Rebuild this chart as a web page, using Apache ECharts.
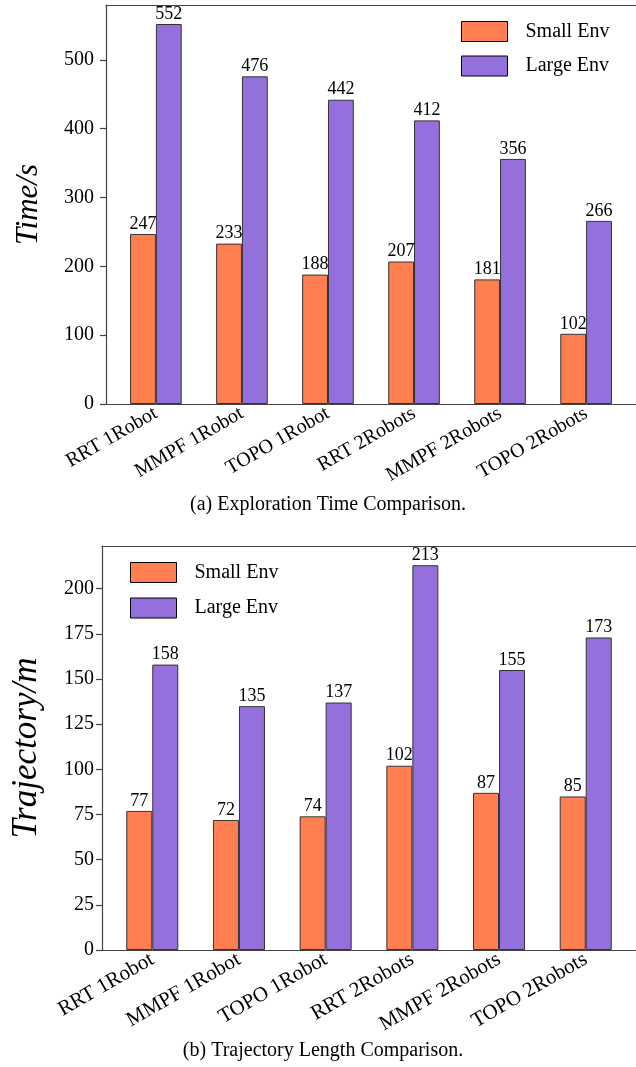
<!DOCTYPE html>
<html>
<head>
<meta charset="utf-8">
<script src="https://cdn.jsdelivr.net/npm/echarts@6/dist/echarts.min.js"></script>
<style>
html,body{margin:0;padding:0;background:#fff;}
#chart{width:636px;height:1067px;}
</style>
</head>
<body>
<div id="chart"></div>
<script>
const categories = ['RRT 1Robot', 'MMPF 1Robot', 'TOPO 1Robot', 'RRT 2Robots', 'MMPF 2Robots', 'TOPO 2Robots'];
const seriesNames = ['Small Env', 'Large Env'];
const timeSmall = [247, 233, 188, 207, 181, 102];
const timeLarge = [552, 476, 442, 412, 356, 266];
const trajSmall = [77, 72, 74, 102, 87, 85];
const trajLarge = [158, 135, 137, 213, 155, 173];
const timeTicks = [0, 100, 200, 300, 400, 500];
const trajTicks = [0, 25, 50, 75, 100, 125, 150, 175, 200];
const captions = ['(a) Exploration Time Comparison.', '(b) Trajectory Length Comparison.'];
const yNames = ['Time/s', 'Trajectory/m'];

const FONT = '"Liberation Serif", "DejaVu Serif", serif';
const AX = '#444';
const colors = ['#FF7F50', '#9370DB'];
const catIdx = categories.map((c, i) => i);
const xMin = -0.58, xMax = categories.length - 1 + 0.58;

function xAxisMain(grid, fs) {
  return {
    type: 'value', gridIndex: grid, min: xMin, max: xMax, position: 'bottom',
    axisLine: {show: true, onZero: false, lineStyle: {color: AX, width: 1.2}},
    axisTick: {show: false},
    splitLine: {show: false},
    axisLabel: {
      customValues: catIdx, rotate: 30, margin: 8,
      fontFamily: FONT, fontSize: fs, color: '#000',
      formatter: v => categories[Math.round(v)]
    }
  };
}
function xAxisTop(grid) {
  return {
    type: 'value', gridIndex: grid, min: xMin, max: xMax, position: 'top',
    axisLine: {show: true, onZero: false, lineStyle: {color: AX, width: 1.2}},
    axisTick: {show: false}, splitLine: {show: false}, axisLabel: {show: false}
  };
}
function yAxis(grid, max, ticks, name, margin, gap, nameSize) {
  return {
    type: 'value', gridIndex: grid, min: 0, max: max,
    name: name, nameLocation: 'middle', nameGap: gap,
    nameTextStyle: {fontFamily: FONT, fontSize: nameSize, fontStyle: 'italic', color: '#000'},
    axisLine: {show: true, onZero: false, lineStyle: {color: AX, width: 1.2}},
    axisTick: {show: true, customValues: ticks, length: 6, lineStyle: {color: AX, width: 1.2}},
    splitLine: {show: false},
    axisLabel: {customValues: ticks, margin: margin, fontFamily: FONT, fontSize: 20, color: '#000'}
  };
}
function bar(name, vals, grid, color) {
  return {
    type: 'bar', name: name, xAxisIndex: grid * 2, yAxisIndex: grid,
    data: vals.map((v, i) => [i, v]),
    barWidth: '30%', barGap: '0%',
    itemStyle: {color: color, borderColor: '#333', borderWidth: 1},
    label: {show: true, position: 'top', distance: 1, fontFamily: FONT, fontSize: 18, color: '#000',
      formatter: p => p.value[1]}
  };
}

const chart = echarts.init(document.getElementById('chart'), null, {renderer: 'canvas'});
chart.setOption({
  animation: false,
  backgroundColor: '#fff',
  color: colors,
  title: [
    {text: captions[0], left: 323, top: 490, textAlign: 'center',
      textStyle: {fontFamily: FONT, fontSize: 20, fontWeight: 'normal', color: '#000'}},
    {text: captions[1], left: 318, top: 1036, textAlign: 'center',
      textStyle: {fontFamily: FONT, fontSize: 20, fontWeight: 'normal', color: '#000'}}
  ],
  legend: [
    {data: seriesNames, orient: 'vertical', left: 461, top: 21, padding: 0,
      itemWidth: 46, itemHeight: 20, itemGap: 13.5, icon: 'rect',
      itemStyle: {borderColor: '#000', borderWidth: 1},
      textStyle: {fontFamily: FONT, fontSize: 20, color: '#000', padding: [0, 0, 0, 13]}},
    {data: seriesNames, orient: 'vertical', left: 130, top: 562, padding: 0,
      itemWidth: 46, itemHeight: 20, itemGap: 14.5, icon: 'rect',
      itemStyle: {borderColor: '#000', borderWidth: 1},
      textStyle: {fontFamily: FONT, fontSize: 20, color: '#000', padding: [0, 0, 0, 13]}}
  ],
  grid: [
    {left: 106, right: -6, top: 5, bottom: 663, containLabel: false},
    {left: 102, right: -7, top: 546, bottom: 117, containLabel: false}
  ],
  xAxis: [xAxisMain(0, 20), xAxisTop(0), xAxisMain(1, 21), xAxisTop(1)],
  yAxis: [
    yAxis(0, Math.max(...timeLarge) * 1.05, timeTicks, yNames[0], 12, 62, 31),
    yAxis(1, Math.max(...trajLarge) * 1.05, trajTicks, yNames[1], 8, 58, 35)
  ],
  series: [
    bar(seriesNames[0], timeSmall, 0, colors[0]),
    bar(seriesNames[1], timeLarge, 0, colors[1]),
    bar(seriesNames[0], trajSmall, 1, colors[0]),
    bar(seriesNames[1], trajLarge, 1, colors[1])
  ]
});
</script>
</body>
</html>
